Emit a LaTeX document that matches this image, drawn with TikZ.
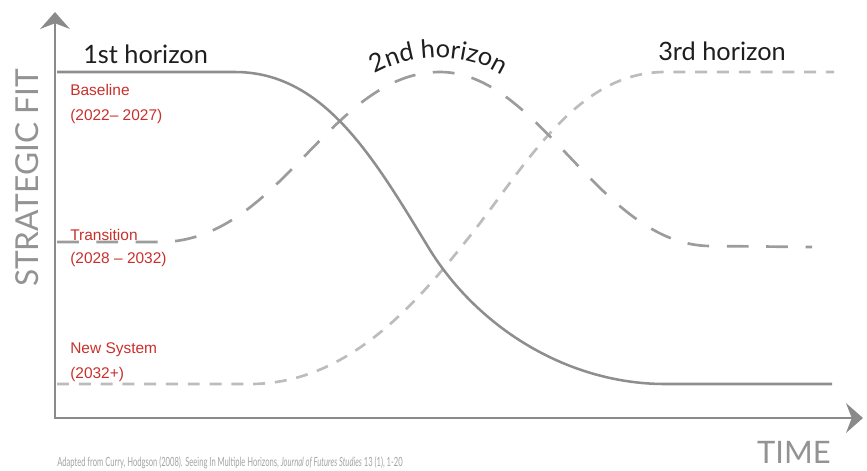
\documentclass[tikz,border=0pt]{standalone}
\usepackage{fontspec}
\setmainfont{Lato}
\newfontfamily\phasefont{Liberation Sans}
\newfontfamily\citefont[FakeStretch=0.6]{Lato}
\usetikzlibrary{arrows.meta,decorations.text}
\definecolor{ink}{HTML}{1E1E1E}
\definecolor{axisgrey}{HTML}{8A8A8A}
\definecolor{firstgrey}{HTML}{8E8E8E}
\definecolor{secondgrey}{HTML}{9C9C9C}
\definecolor{thirdgrey}{HTML}{BCBCBC}
\definecolor{phasered}{HTML}{C8302C}
\definecolor{labelgrey}{HTML}{939393}
\definecolor{notegrey}{HTML}{A3A3A3}

\begin{document}
\begin{tikzpicture}[x=0.025cm,y=-0.025cm,>={Stealth[length=12pt,width=21pt,inset=4pt]},every node/.style={inner sep=0pt,text=ink},horizon/.style={font=\fontsize{18}{20}\selectfont,anchor=base west},phase/.style={font=\phasefont\fontsize{11}{13}\selectfont,text=phasered,anchor=base west},axisline/.style={<->,axisgrey,line width=2.1pt},fitone/.style={firstgrey,line width=1.8pt},fittwo/.style={secondgrey,line width=1.9pt,dash pattern=on 15.5pt off 12.5pt},fitthree/.style={thirdgrey,line width=1.9pt,dash pattern=on 8.5pt off 7pt}]
\path[use as bounding box] (0,0) rectangle (867,470);

\coordinate (origin) at (55,418);
\coordinate (ytip) at (55,12);
\coordinate (xtip) at (863,418);
\draw[axisline] (ytip) -- (origin) -- (xtip);

\draw[fitthree] (57,384) -- (250,384) .. controls (350,384) and (420,300) .. (477,227) .. controls (530,158) and (580,72) .. (665,72) -- (834,72);
\draw[fittwo] (57,242) -- (160,242) .. controls (280,242) and (330,72) .. (440,72) .. controls (540,72) and (600,245) .. (710,246) -- (812,247);
\draw[fitone] (57,72) -- (235,72) .. controls (325,72) and (375,160) .. (430,250) .. controls (480,330) and (570,384) .. (665,384) -- (832,384);

\node[horizon] (horizA) at (83,63) {1st horizon};
\path[decorate,decoration={text along path,text align=center,text color=ink,text={|\fontsize{18}{20}\selectfont|2nd horizon}}] (358,86) .. controls (400,48) and (480,48) .. (518,88);
\node[horizon] (horizC) at (658,60) {3rd horizon};

\node[phase] (baseA) at (70,95) {Baseline};
\node[phase] (baseB) at (70,120) {(2022– 2027)};
\node[phase] (transA) at (70,240) {Transition};
\node[phase] (transB) at (70,263) {(2028 – 2032)};
\node[phase] (newA) at (70,353) {New System};
\node[phase] (newB) at (70,378) {(2032+)};

\node[rotate=90,text=labelgrey,font=\fontsize{22.5}{24}\selectfont] (fit) at (27,178) {STRATEGIC FIT};
\node[anchor=base east,text=labelgrey,font=\fontsize{22}{24}\selectfont] (time) at (831,463) {TIME};
\node[anchor=base west,text=notegrey,font=\citefont\fontsize{9}{11}\selectfont] (source) at (57,466) {Adapted from Curry, Hodgson (2008). Seeing In Multiple Horizons, \textit{Journal of Futures Studies} 13 (1), 1-20};

\end{tikzpicture}
\end{document}
